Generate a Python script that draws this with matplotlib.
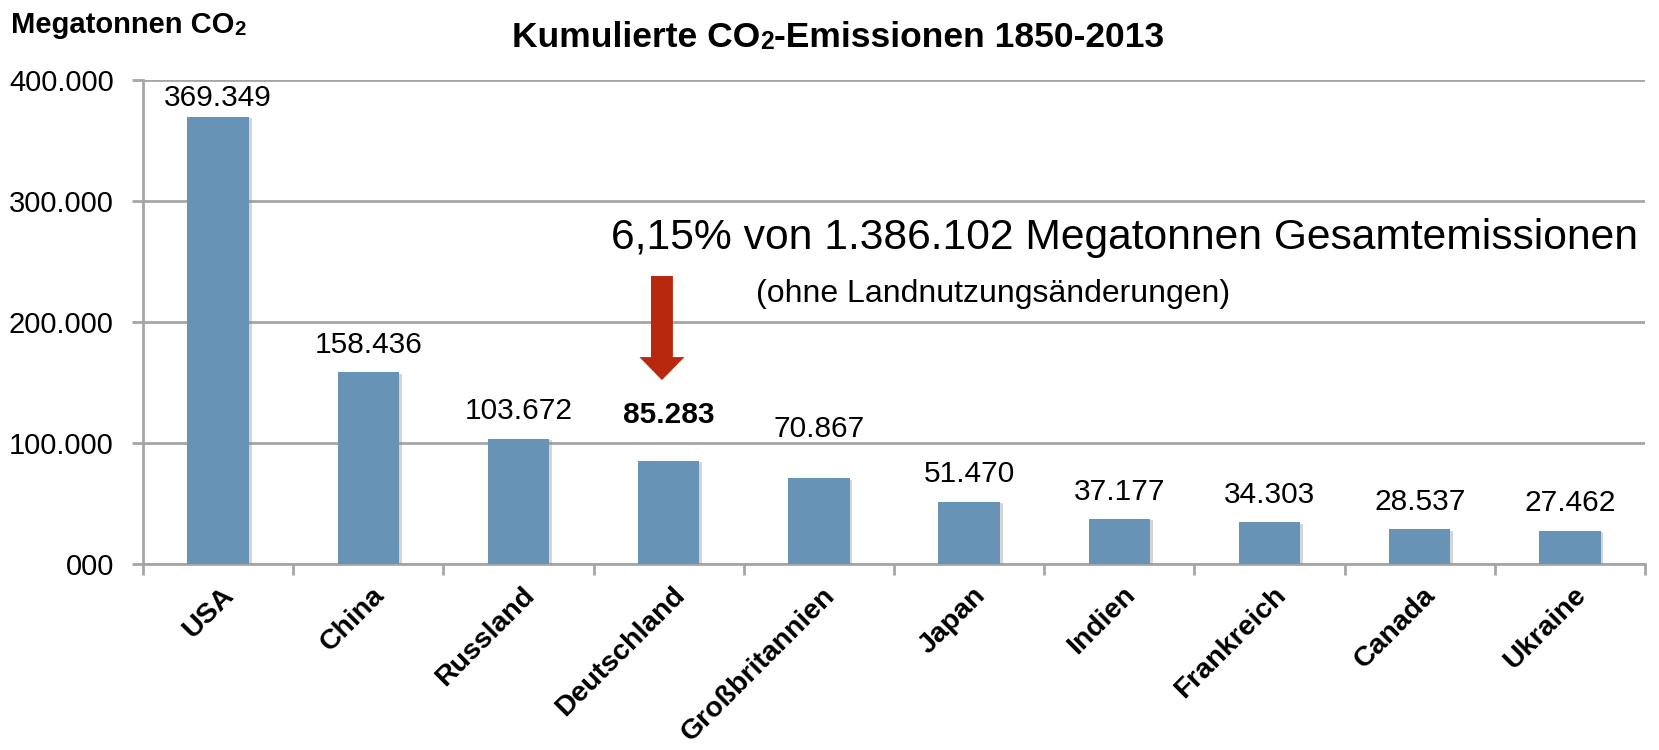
import numpy as np
import matplotlib
matplotlib.use("Agg")
import matplotlib.pyplot as plt
import matplotlib.transforms as mtransforms
from matplotlib.patches import FancyArrow
from matplotlib import patheffects as pe

plt.rcParams["font.family"] = ["Liberation Sans", "DejaVu Sans"]

countries = ["USA", "China", "Russland", "Deutschland", "Großbritannien",
             "Japan", "Indien", "Frankreich", "Canada", "Ukraine"]
emissions = [369349, 158436, 103672, 85283, 70867, 51470, 37177, 34303, 28537, 27462]
y_ticks = [0, 100000, 200000, 300000, 400000]
y_tick_labels = ["000", "100.000", "200.000", "300.000", "400.000"]
total_emissions = 1386102
highlight = "Deutschland"

# gap between bar top and its value label (points), labels were placed by hand
label_gap = [8, 14, 14, 27, 30, 14, 14, 14, 14, 14]

bar_color = "#6793B6"
grid_color = "#A6A6A6"
arrow_color = "#B7280D"


def de_number(v):
    return f"{v:,}".replace(",", ".")


W, H = 1659, 750
fig = plt.figure(figsize=(W / 100, H / 100), dpi=100)
ax = fig.add_axes([143 / W, 1 - 564 / H, (1645 - 143) / W, (564 - 80) / H])

x = np.arange(len(countries))
bars = ax.bar(x, emissions, width=0.41, color=bar_color, zorder=3)
for b in bars:
    b.set_path_effects([pe.SimplePatchShadow(offset=(2, -1), shadow_rgbFace="#888888", alpha=0.35),
                        pe.Normal()])

for i, (c, v) in enumerate(zip(countries, emissions)):
    ax.annotate(de_number(v), (i, v), xytext=(0, label_gap[i]), textcoords="offset points",
                ha="center", va="baseline", fontsize=21.5,
                fontweight="bold" if c == highlight else "normal")

ax.set_xlim(-0.5, len(countries) - 0.5)
ax.set_ylim(0, 400000)
ax.set_yticks(y_ticks)
ax.set_yticklabels(y_tick_labels, fontsize=21)
ax.tick_params(axis="y", length=8, width=2, color=grid_color, pad=13)

ax.set_xticks(x)
ax.set_xticklabels(countries, rotation=45, ha="right", rotation_mode="anchor",
                   fontsize=20.5, fontweight="bold")
ax.tick_params(axis="x", which="major", length=0, pad=13)
ax.set_xticks(np.arange(-0.5, len(countries)), minor=True)
ax.tick_params(axis="x", which="minor", length=8, width=2, color=grid_color)
shift = mtransforms.ScaledTranslation(3 / 100, 0, fig.dpi_scale_trans)
for lab in ax.get_xticklabels():
    lab.set_transform(lab.get_transform() + shift)

ax.yaxis.grid(True, color=grid_color, lw=2, zorder=0)
ax.set_axisbelow(True)
for s in ["top", "right"]:
    ax.spines[s].set_visible(False)
for s in ["left", "bottom"]:
    ax.spines[s].set_color(grid_color)
    ax.spines[s].set_linewidth(2)

# arrow pointing at Germany
k = countries.index(highlight)
ax.add_patch(FancyArrow(k - 0.045, 238000, 0, -86000, width=0.146, head_width=0.30,
                        head_length=19000, length_includes_head=True,
                        color=arrow_color, lw=0, zorder=4))

share = emissions[k] / total_emissions * 100
fig.text(611 / W, 1 - 249 / H,
         f"{share:.2f}".replace(".", ",") + f"% von {de_number(total_emissions)} Megatonnen Gesamtemissionen",
         fontsize=30.7, ha="left", va="baseline")
fig.text(993 / W, 1 - 302 / H, "(ohne Landnutzungsänderungen)", fontsize=23,
         ha="center", va="baseline")


def chem_text(x0, y0, parts, size):
    # parts: list of (text, is_subscript); the "2" sits small after "CO"
    last = None
    for txt, sub in parts:
        fs = size * 0.7 if sub else size
        if last is None:
            last = fig.text(x0, y0, txt, fontsize=fs, fontweight="bold", ha="left", va="baseline")
        else:
            last = ax.annotate(txt, xy=(1, 0), xycoords=last, fontsize=fs, fontweight="bold",
                               ha="left", va="bottom", annotation_clip=False)


chem_text(11 / W, 1 - 33 / H, [("Megatonnen CO", False), ("2", True)], 21)
chem_text(512 / W, 1 - 47 / H, [("Kumulierte CO", False), ("2", True),
                                ("-Emissionen 1850-2013", False)], 25.5)

fig.savefig("out.png", dpi=100, facecolor="white")
